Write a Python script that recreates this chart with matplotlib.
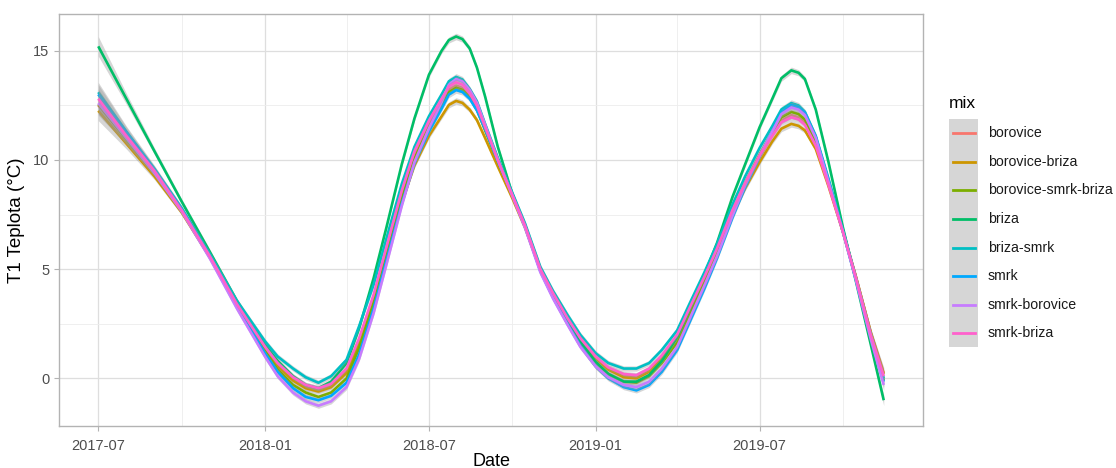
import matplotlib
matplotlib.use("Agg")
import matplotlib.pyplot as plt
import matplotlib.dates as mdates
import numpy as np
import pandas as pd
from matplotlib.lines import Line2D
from matplotlib.patches import Rectangle

plt.rcParams['font.family'] = ['Liberation Sans', 'DejaVu Sans']

dates = pd.to_datetime([
    "2017-07-01", "2017-08-01", "2017-09-01", "2017-10-01", "2017-11-01", "2017-12-01",
    "2018-01-01", "2018-01-15", "2018-02-01", "2018-02-15", "2018-03-01", "2018-03-15",
    "2018-04-01", "2018-04-15", "2018-05-01", "2018-05-15", "2018-06-01", "2018-06-15",
    "2018-07-01", "2018-07-15", "2018-07-23", "2018-07-31", "2018-08-07", "2018-08-15",
    "2018-08-23", "2018-09-01", "2018-09-15",
    "2018-10-01", "2018-10-15", "2018-11-01", "2018-11-15", "2018-12-01", "2018-12-15",
    "2019-01-01", "2019-01-15", "2019-02-01", "2019-02-15", "2019-03-01", "2019-03-15",
    "2019-04-01", "2019-04-15", "2019-05-01", "2019-05-15", "2019-06-01", "2019-06-15",
    "2019-07-01", "2019-07-15", "2019-07-25", "2019-08-05", "2019-08-13", "2019-08-20",
    "2019-09-01", "2019-09-15",
    "2019-10-01", "2019-10-15", "2019-11-01", "2019-11-15"])

series_names = ["borovice", "borovice-briza", "borovice-smrk-briza", "briza",
                "briza-smrk", "smrk", "smrk-borovice", "smrk-briza"]

borovice = [12.5, 10.95, 9.4, 7.7, 5.6, 3.35, 1.4, 0.6, -0.05, -0.4, -0.55, -0.35,
            0.3, 1.7, 3.7, 5.8, 8.4, 10.2, 11.65, 12.65, 13.21, 13.4, 13.29, 12.9,
            12.36, 11.4, 9.95,
            8.4, 7.0, 5.0, 3.85, 2.75, 1.8, 0.95, 0.45, 0.15, 0.1, 0.4, 1.0,
            1.95, 3.2, 4.6, 5.9, 7.65, 8.9, 10.15, 11.15, 11.8, 12.05, 11.95, 11.7,
            10.7, 8.9, 6.75, 4.7, 2.05, 0.25]
borovice_briza = [12.25, 10.75, 9.25, 7.6, 5.55, 3.3, 1.35, 0.55, -0.1, -0.45, -0.6, -0.4,
                  0.25, 1.6, 3.55, 5.55, 8.05, 9.75, 11.1, 12.0, 12.52, 12.7, 12.61, 12.3,
                  11.82, 11.0, 9.7,
                  8.25, 6.9, 4.95, 3.85, 2.7, 1.75, 0.9, 0.4, 0.05, 0.0, 0.3, 0.9,
                  1.85, 3.1, 4.5, 5.8, 7.5, 8.7, 9.9, 10.85, 11.43, 11.65, 11.56, 11.35,
                  10.5, 8.8, 6.7, 4.7, 2.05, 0.2]
borovice_smrk_briza = [12.55, 10.95, 9.4, 7.7, 5.6, 3.3, 1.25, 0.4, -0.3, -0.65, -0.85, -0.65,
                       0.0, 1.4, 3.45, 5.6, 8.25, 10.05, 11.5, 12.5, 13.1, 13.3, 13.2, 12.85,
                       12.29, 11.35, 9.95,
                       8.4, 7.0, 5.0, 3.8, 2.65, 1.65, 0.75, 0.2, -0.15, -0.2, 0.1, 0.7,
                       1.65, 2.95, 4.45, 5.8, 7.6, 8.95, 10.25, 11.3, 11.95, 12.2, 12.1, 11.85,
                       10.85, 8.95, 6.7, 4.6, 1.85, -0.1]
briza = [15.2, 12.8, 10.4, 8.1, 5.8, 3.55, 1.55, 0.8, 0.1, -0.3, -0.45, -0.15,
         0.7, 2.3, 4.6, 6.9, 9.8, 11.9, 13.9, 15.0, 15.49, 15.65, 15.53, 15.1,
         14.22, 12.9, 10.6,
         8.45, 7.0, 5.0, 3.85, 2.7, 1.7, 0.75, 0.2, -0.15, -0.15, 0.15, 0.8,
         1.9, 3.2, 4.75, 6.2, 8.3, 9.8, 11.5, 12.8, 13.74, 14.1, 13.99, 13.7,
         12.3, 9.9, 6.9, 4.5, 1.5, -1.0]
briza_smrk = [13.1, 11.3, 9.6, 7.8, 5.7, 3.55, 1.7, 1.0, 0.45, 0.05, -0.2, 0.1,
              0.85, 2.4, 4.3, 6.4, 8.9, 10.6, 12.0, 13.0, 13.6, 13.8, 13.68, 13.25,
              12.68, 11.65, 10.1,
              8.5, 7.1, 5.1, 4.0, 2.9, 2.0, 1.15, 0.7, 0.45, 0.45, 0.7, 1.3,
              2.2, 3.45, 4.85, 6.15, 7.95, 9.25, 10.55, 11.55, 12.31, 12.6, 12.49, 12.2,
              11.1, 9.15, 6.8, 4.65, 1.95, 0.0]
smrk = [13.0, 11.25, 9.55, 7.75, 5.6, 3.3, 1.15, 0.3, -0.45, -0.85, -1.0, -0.8,
        -0.2, 1.1, 3.2, 5.4, 8.0, 9.85, 11.3, 12.35, 12.99, 13.2, 13.11, 12.8,
        12.26, 11.4, 9.95,
        8.4, 6.95, 4.9, 3.7, 2.5, 1.5, 0.55, 0.0, -0.4, -0.55, -0.3, 0.3,
        1.3, 2.6, 4.1, 5.5, 7.35, 8.75, 10.15, 11.3, 12.17, 12.5, 12.4, 12.15,
        11.05, 9.05, 6.7, 4.55, 1.8, -0.15]
smrk_borovice = [12.6, 11.0, 9.4, 7.65, 5.5, 3.2, 1.0, 0.1, -0.65, -1.05, -1.25, -1.05,
                 -0.4, 0.9, 3.0, 5.2, 7.9, 9.9, 11.45, 12.65, 13.44, 13.7, 13.59, 13.2,
                 12.61, 11.6, 10.0,
                 8.35, 6.9, 4.85, 3.65, 2.45, 1.45, 0.55, 0.05, -0.3, -0.4, -0.15, 0.45,
                 1.45, 2.75, 4.25, 5.6, 7.45, 8.85, 10.2, 11.3, 12.1, 12.4, 12.3, 12.05,
                 11.0, 9.0, 6.7, 4.55, 1.75, -0.3]
smrk_briza = [12.8, 11.1, 9.5, 7.7, 5.6, 3.4, 1.45, 0.7, 0.05, -0.3, -0.45, -0.25,
              0.45, 1.85, 3.85, 6.0, 8.6, 10.4, 11.8, 12.8, 13.36, 13.55, 13.44, 13.05,
              12.48, 11.5, 10.0,
              8.4, 7.0, 5.0, 3.9, 2.75, 1.85, 1.0, 0.5, 0.2, 0.15, 0.45, 1.05,
              2.0, 3.25, 4.65, 5.95, 7.7, 8.95, 10.2, 11.1, 11.72, 11.95, 11.85, 11.6,
              10.65, 8.85, 6.7, 4.65, 1.95, 0.1]

# half-width of the grey confidence ribbon (degrees C)
ci_half = [0.45, 0.25, 0.15, 0.12, 0.12, 0.12, 0.12, 0.12, 0.12, 0.12, 0.12, 0.12,
           0.12, 0.12, 0.12, 0.12, 0.12, 0.12, 0.12, 0.12, 0.14, 0.15, 0.14, 0.12,
           0.12, 0.12, 0.12,
           0.12, 0.12, 0.12, 0.12, 0.12, 0.12, 0.12, 0.12, 0.12, 0.12, 0.12, 0.12,
           0.12, 0.12, 0.12, 0.12, 0.12, 0.12, 0.12, 0.12, 0.14, 0.15, 0.14, 0.12,
           0.12, 0.12, 0.12, 0.15, 0.2, 0.25]

series_values = [borovice, borovice_briza, borovice_smrk_briza, briza,
                 briza_smrk, smrk, smrk_borovice, smrk_briza]
colors = ["#F8766D", "#CD9600", "#7CAE00", "#00BE67",
          "#00BFC4", "#00A9FF", "#C77CFF", "#FF61CC"]

W, H = 1116, 468
fig = plt.figure(figsize=(W / 100, H / 100), dpi=100)
ax = fig.add_axes([59 / W, 1 - 426 / H, (923 - 59) / W, (426 - 14) / H])

ci = np.array(ci_half)
z = 2
for name, vals, col in zip(series_names, series_values, colors):
    v = np.array(vals)
    ax.fill_between(dates, v - ci, v + ci, color="#999999", alpha=0.4,
                    linewidth=0, zorder=z)
    ax.plot(dates, v, color=col, lw=1.9, zorder=z + 0.5,
            solid_joinstyle="round", solid_capstyle="butt")
    z += 1

# scales (ggplot-like 5% expansion on x)
span = dates[-1] - dates[0]
ax.set_xlim(dates[0] - span * 0.05, dates[-1] + span * 0.05)
ax.set_ylim(-2.18, 16.68)

ax.xaxis.set_major_locator(mdates.MonthLocator(bymonth=[1, 7]))
ax.xaxis.set_minor_locator(mdates.MonthLocator(bymonth=[4, 10]))
ax.xaxis.set_major_formatter(mdates.DateFormatter("%Y-%m"))
ax.set_yticks([0, 5, 10, 15])
ax.set_yticks([2.5, 7.5, 12.5], minor=True)

ax.grid(which="major", color="#DEDEDE", lw=0.9, zorder=0)
ax.grid(which="minor", color="#EDEDED", lw=0.6, zorder=0)
ax.set_axisbelow(True)
for s in ax.spines.values():
    s.set_color("#B3B3B3")
    s.set_linewidth(1.0)
ax.tick_params(axis="x", which="major", length=3.5, width=0.8, color="#B3B3B3",
               labelsize=10.5, labelcolor="#4D4D4D", pad=6)
ax.tick_params(axis="y", which="major", length=3.5, width=0.8, color="#B3B3B3",
               labelsize=10.5, labelcolor="#4D4D4D", pad=3.5)
ax.tick_params(which="minor", length=0)

ax.set_xlabel("Date", fontsize=13, color="black", labelpad=0)
ax.set_ylabel("T1 Teplota (°C)", fontsize=13.5, color="black", labelpad=6)

# legend (ggplot-like, grey key background)
fig.text(949 / W, 1 - 104 / H, "mix", fontsize=12.5, color="black",
         ha="left", va="center")
key_top, step = 133.3, 28.57
fig.patches.append(Rectangle((949.3 / W, 1 - 347.3 / H),
                             29 / W, (347.3 - 119.3) / H,
                             transform=fig.transFigure, facecolor="#D6D6D6",
                             edgecolor="none"))
for i, (name, col) in enumerate(zip(series_names, colors)):
    yy = 1 - (key_top + i * step) / H
    fig.lines.append(Line2D([952.7 / W, 975 / W], [yy, yy], transform=fig.transFigure,
                            color=col, lw=2.0))
    fig.text(987.7 / W, yy, name, fontsize=10.2, color="#1A1A1A",
             ha="left", va="center")

fig.savefig("out.png", dpi=100)
